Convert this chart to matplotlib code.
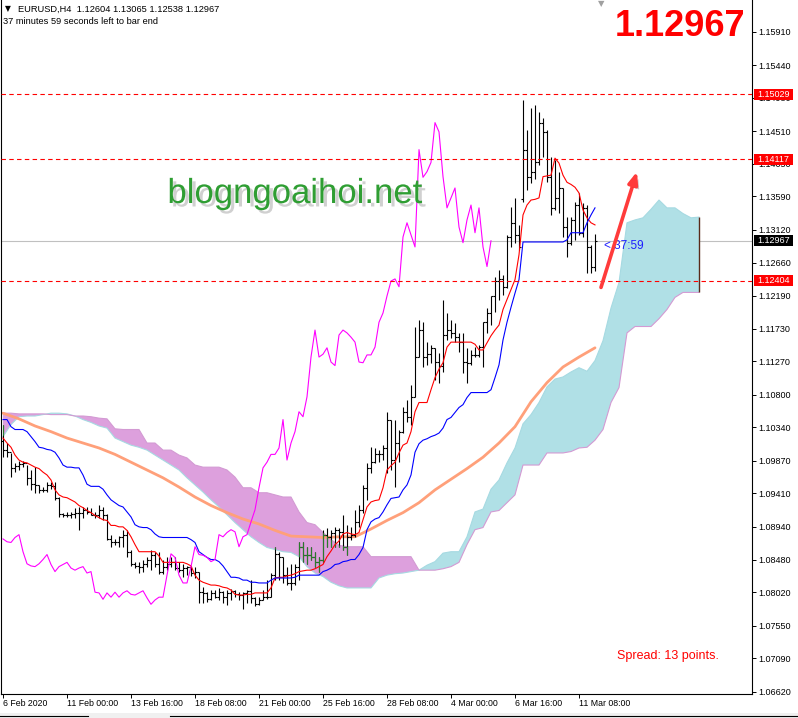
import matplotlib
matplotlib.use("Agg")
import matplotlib.pyplot as plt
import matplotlib.patheffects as pe
import matplotlib.transforms as mtransforms
from matplotlib.collections import LineCollection
from matplotlib.patches import Rectangle
from matplotlib.path import Path
import numpy as np

plt.rcParams['font.family'] = ['Liberation Sans', 'DejaVu Sans']

# ---- EURUSD H4 bars, 6 Feb 2020 .. 12 Mar 2020 ----
closes = [1.1002, 1.0999, 1.0977, 1.0980, 1.0982, 1.0984, 1.0963, 1.0954, 1.0953, 1.0946,
          1.0946, 1.0953, 1.0951, 1.0935, 1.0912, 1.0911, 1.0911, 1.0912, 1.0914, 1.0914,
          1.0918, 1.0915, 1.0911, 1.0911, 1.0918, 1.0910, 1.0877, 1.0873, 1.0872, 1.0879,
          1.0883, 1.0859, 1.0842, 1.0839, 1.0838, 1.0842, 1.0848, 1.0855, 1.0841, 1.0831,
          1.0838, 1.0841, 1.0844, 1.0836, 1.0833, 1.0836, 1.0838, 1.0829, 1.0831, 1.0802,
          1.0801, 1.0792, 1.0801, 1.0795, 1.0802, 1.0795, 1.0801, 1.0804, 1.0799, 1.0798,
          1.0801, 1.0804, 1.0794, 1.0785, 1.0791, 1.0795, 1.0795, 1.0826, 1.0856, 1.0851,
          1.0826, 1.0815, 1.0815, 1.0838, 1.0866, 1.0855, 1.0854, 1.0851, 1.0845, 1.0848,
          1.0883, 1.0880, 1.0886, 1.0890, 1.0887, 1.0866, 1.0880, 1.0883, 1.0901, 1.0918,
          1.0949, 1.0977, 1.0985, 1.0996, 1.0996, 1.1005, 1.1045, 1.0988, 1.1012, 1.1028,
          1.1056, 1.1049, 1.1077, 1.1133, 1.1171, 1.1133, 1.1137, 1.1146, 1.1126, 1.1121,
          1.1164, 1.1171, 1.1167, 1.1161, 1.1154, 1.1126, 1.1125, 1.1136, 1.1136, 1.1147,
          1.1182, 1.1195, 1.1219, 1.1240, 1.1243, 1.1232, 1.1302, 1.1322, 1.1305, 1.1288,
          1.1425, 1.1386, 1.1394, 1.1407, 1.1463, 1.1450, 1.1387, 1.1343, 1.1357, 1.1371,
          1.1316, 1.1294, 1.1326, 1.1347, 1.1308, 1.1343, 1.1288, 1.12604, 1.12967]

highs = [1.1038, 1.1012, 1.0998, 1.0984, 1.0987, 1.0987, 1.0981, 1.0974, 1.0978, 1.0953,
         1.0950, 1.0957, 1.0957, 1.0957, 1.0936, 1.0914, 1.0915, 1.0915, 1.0921, 1.0922,
         1.0922, 1.0922, 1.0921, 1.0915, 1.0925, 1.0922, 1.0912, 1.0883, 1.0877, 1.0881,
         1.0890, 1.0890, 1.0862, 1.0845, 1.0844, 1.0848, 1.0852, 1.0862, 1.0859, 1.0859,
         1.0848, 1.0852, 1.0851, 1.0852, 1.0844, 1.0841, 1.0839, 1.0839, 1.0838, 1.0831,
         1.0809, 1.0802, 1.0805, 1.0805, 1.0808, 1.0804, 1.0805, 1.0807, 1.0805, 1.0802,
         1.0802, 1.0805, 1.0819, 1.0795, 1.0795, 1.0805, 1.0819, 1.0829, 1.0866, 1.0859,
         1.0852, 1.0838, 1.0841, 1.0841, 1.0872, 1.0872, 1.0866, 1.0866, 1.0859, 1.0852,
         1.0890, 1.0893, 1.0890, 1.0894, 1.0893, 1.0911, 1.0897, 1.0894, 1.0918, 1.0925,
         1.0953, 1.0984, 1.1006, 1.1005, 1.1002, 1.1009, 1.1055, 1.1045, 1.1045, 1.1031,
         1.1063, 1.1073, 1.1094, 1.1175, 1.1185, 1.1182, 1.1154, 1.1150, 1.1146, 1.1139,
         1.1214, 1.1195, 1.1185, 1.1181, 1.1167, 1.1167, 1.1146, 1.1143, 1.1147, 1.1150,
         1.1182, 1.1202, 1.1219, 1.1246, 1.1256, 1.1249, 1.1305, 1.1344, 1.1357, 1.1319,
         1.1495, 1.1453, 1.1484, 1.1488, 1.1478, 1.1470, 1.1453, 1.1415, 1.1411, 1.1393,
         1.1371, 1.1330, 1.1330, 1.1351, 1.1364, 1.1350, 1.1347, 1.1291, 1.13065]

lows = [1.0992, 1.0992, 1.0964, 1.0971, 1.0974, 1.0978, 1.0953, 1.0946, 1.0942, 1.0942,
        1.0943, 1.0943, 1.0947, 1.0932, 1.0908, 1.0908, 1.0908, 1.0907, 1.0907, 1.0890,
        1.0907, 1.0912, 1.0910, 1.0907, 1.0907, 1.0904, 1.0876, 1.0866, 1.0868, 1.0866,
        1.0866, 1.0852, 1.0839, 1.0836, 1.0829, 1.0831, 1.0838, 1.0833, 1.0838, 1.0828,
        1.0828, 1.0833, 1.0838, 1.0833, 1.0831, 1.0824, 1.0826, 1.0825, 1.0822, 1.0787,
        1.0787, 1.0788, 1.0791, 1.0794, 1.0791, 1.0787, 1.0784, 1.0791, 1.0795, 1.0791,
        1.0778, 1.0787, 1.0787, 1.0783, 1.0784, 1.0791, 1.0792, 1.0795, 1.0819, 1.0819,
        1.0815, 1.0812, 1.0805, 1.0812, 1.0819, 1.0844, 1.0841, 1.0848, 1.0838, 1.0831,
        1.0844, 1.0866, 1.0866, 1.0865, 1.0865, 1.0862, 1.0855, 1.0876, 1.0880, 1.0894,
        1.0914, 1.0932, 1.0970, 1.0984, 1.0985, 1.0988, 1.0970, 1.0974, 1.0950, 1.0985,
        1.1026, 1.1041, 1.1038, 1.1077, 1.1133, 1.1119, 1.1122, 1.1125, 1.1101, 1.1097,
        1.1112, 1.1157, 1.1160, 1.1154, 1.1140, 1.1111, 1.1097, 1.1122, 1.1133, 1.1133,
        1.1119, 1.1167, 1.1178, 1.1197, 1.1214, 1.1221, 1.1230, 1.1288, 1.1294, 1.1284,
        1.1351, 1.1368, 1.1378, 1.1383, 1.1404, 1.1415, 1.1380, 1.1333, 1.1340, 1.1336,
        1.1302, 1.1274, 1.1291, 1.1298, 1.1305, 1.1302, 1.1252, 1.1252, 1.12538]

# forex bars open at the previous close, except the Monday 9 Mar gap
opens = [1.1015] + closes[:-1]
opens[130] = 1.1355

# Ichimoku lines
tenkan = [1.1019, 1.1012, 1.1006, 1.0995, 1.0988, 1.0985, 1.0984, 1.0981, 1.0978, 1.0976,
          1.0971, 1.0967, 1.0960, 1.0946, 1.0939, 1.0936, 1.0935, 1.0932, 1.0929, 1.0924,
          1.0921, 1.0917, 1.0914, 1.0910, 1.0907, 1.0904, 1.0903, 1.0896, 1.0896, 1.0894,
          1.0894, 1.0889, 1.0880, 1.0869, 1.0859, 1.0859, 1.0859, 1.0859, 1.0859, 1.0853,
          1.0844, 1.0844, 1.0844, 1.0844, 1.0844, 1.0844, 1.0842, 1.0839, 1.0826, 1.0819,
          1.0816, 1.0814, 1.0812, 1.0812, 1.0811, 1.0809, 1.0808, 1.0805, 1.0799, 1.0798,
          1.0798, 1.0799, 1.0799, 1.0801, 1.0801, 1.0801, 1.0801, 1.0808, 1.0822, 1.0823,
          1.0823, 1.0825, 1.0826, 1.0828, 1.0831, 1.0832, 1.0833, 1.0833, 1.0835, 1.0838,
          1.0841, 1.0852, 1.0860, 1.0869, 1.0874, 1.0884, 1.0886, 1.0884, 1.0883, 1.0886,
          1.0904, 1.0922, 1.0929, 1.0931, 1.0932, 1.0949, 1.0974, 1.0980, 1.0985, 1.0998,
          1.1009, 1.1012, 1.1028, 1.1056, 1.1069, 1.1069, 1.1069, 1.1087, 1.1104, 1.1116,
          1.1125, 1.1147, 1.1154, 1.1154, 1.1154, 1.1154, 1.1154, 1.1154, 1.1151, 1.1143,
          1.1143, 1.1153, 1.1163, 1.1171, 1.1178, 1.1200, 1.1214, 1.1228, 1.1242, 1.1277,
          1.1333, 1.1347, 1.1354, 1.1355, 1.1357, 1.1387, 1.1388, 1.1389, 1.1413, 1.1406,
          1.1389, 1.1379, 1.1376, 1.1372, 1.1364, 1.1340, 1.1329, 1.1322, 1.1319]

kijun = [1.1045, 1.1045, 1.1035, 1.1031, 1.1031, 1.1031, 1.1028, 1.1021, 1.1014, 1.1006,
         1.1005, 1.1003, 1.1002, 1.0999, 1.0991, 1.0981, 1.0978, 1.0978, 1.0977, 1.0977,
         1.0967, 1.0954, 1.0951, 1.0951, 1.0951, 1.0947, 1.0939, 1.0932, 1.0928, 1.0924,
         1.0922, 1.0915, 1.0908, 1.0897, 1.0894, 1.0893, 1.0893, 1.0890, 1.0884, 1.0880,
         1.0879, 1.0879, 1.0879, 1.0879, 1.0879, 1.0879, 1.0879, 1.0876, 1.0872, 1.0859,
         1.0855, 1.0851, 1.0848, 1.0848, 1.0845, 1.0839, 1.0831, 1.0823, 1.0823, 1.0822,
         1.0819, 1.0819, 1.0816, 1.0816, 1.0815, 1.0815, 1.0815, 1.0819, 1.0822, 1.0822,
         1.0822, 1.0822, 1.0822, 1.0823, 1.0826, 1.0826, 1.0826, 1.0826, 1.0826, 1.0826,
         1.0831, 1.0833, 1.0836, 1.0841, 1.0842, 1.0845, 1.0846, 1.0848, 1.0848, 1.0855,
         1.0865, 1.0890, 1.0901, 1.0905, 1.0907, 1.0915, 1.0925, 1.0934, 1.0935, 1.0936,
         1.0946, 1.0953, 1.0967, 1.0999, 1.1011, 1.1016, 1.1018, 1.1021, 1.1023, 1.1026,
         1.1033, 1.1045, 1.1048, 1.1055, 1.1062, 1.1066, 1.1076, 1.1083, 1.1083, 1.1083,
         1.1083, 1.1083, 1.1087, 1.1104, 1.1122, 1.1157, 1.1182, 1.1203, 1.1223, 1.1242,
         1.1295, 1.1295, 1.1295, 1.1295, 1.1295, 1.1295, 1.1295, 1.1295, 1.1295, 1.1295,
         1.1295, 1.1298, 1.1308, 1.1308, 1.1308, 1.1308, 1.1322, 1.1333, 1.1343]

# cloud, every second bar, 26 bars ahead of price
span_a = [1.1021, 1.1038, 1.1049, 1.1050, 1.1050, 1.1052, 1.1054, 1.1054, 1.1053, 1.1050,
          1.1045, 1.1041, 1.1036, 1.1033, 1.1019, 1.1014, 1.1009, 1.1006, 1.1002, 1.0995,
          1.0988, 1.0981, 1.0974, 1.0963, 1.0953, 1.0943, 1.0932, 1.0922, 1.0911, 1.0900,
          1.0890, 1.0880, 1.0872, 1.0865, 1.0862, 1.0859, 1.0858, 1.0852, 1.0838, 1.0829,
          1.0824, 1.0816, 1.0811, 1.0808, 1.0808, 1.0808, 1.0808, 1.0822, 1.0826, 1.0828,
          1.0829, 1.0831, 1.0833, 1.0840, 1.0845, 1.0857, 1.0859, 1.0859, 1.0880, 1.0915,
          1.0919, 1.0947, 1.0960, 1.0984, 1.1005, 1.1039, 1.1052, 1.1069, 1.1091, 1.1102,
          1.1105, 1.1112, 1.1118, 1.1113, 1.1128, 1.1156, 1.1202, 1.1238, 1.1322, 1.1326,
          1.1329, 1.1341, 1.1354, 1.1343, 1.1343, 1.1335, 1.1329, 1.1330]

span_b = [1.1054, 1.1054, 1.1053, 1.1053, 1.1053, 1.1053, 1.1052, 1.1052, 1.1052, 1.1050,
          1.1050, 1.1049, 1.1047, 1.1046, 1.1032, 1.1031, 1.1031, 1.1031, 1.1012, 1.1012,
          1.1002, 1.1002, 1.0995, 1.0991, 1.0981, 1.0978, 1.0978, 1.0978, 1.0974, 1.0964,
          1.0949, 1.0949, 1.0942, 1.0942, 1.0939, 1.0936, 1.0936, 1.0915, 1.0900, 1.0897,
          1.0886, 1.0876, 1.0868, 1.0866, 1.0866, 1.0866, 1.0852, 1.0852, 1.0852, 1.0852,
          1.0852, 1.0852, 1.0833, 1.0833, 1.0833, 1.0835, 1.0838, 1.0844, 1.0869, 1.0890,
          1.0893, 1.0915, 1.0917, 1.0928, 1.0939, 1.0981, 1.0981, 1.0981, 1.0998, 1.0998,
          1.0998, 1.1000, 1.1005, 1.1006, 1.1016, 1.1031, 1.1069, 1.1090, 1.1167, 1.1176,
          1.1176, 1.1176, 1.1187, 1.1200, 1.1217, 1.1224, 1.1224, 1.1224]

# moving average, every fourth bar
ma = [1.1054, 1.1046, 1.1036, 1.1028, 1.1019, 1.1012, 1.1005, 1.0996, 1.0985, 1.0974,
      1.0963, 1.0950, 1.0936, 1.0924, 1.0914, 1.0905, 1.0898, 1.0889, 1.0881, 1.0880,
      1.0879, 1.0880, 1.0880, 1.0891, 1.0903, 1.0914, 1.0928, 1.0946, 1.0961, 1.0976,
      1.0992, 1.1012, 1.1035, 1.1070, 1.1097, 1.1119, 1.1133, 1.1146]

levels = [1.15029, 1.14117, 1.12404]
bid = 1.12967
yticks = [1.15910, 1.15440, 1.14980, 1.14510, 1.14050, 1.13590, 1.13120, 1.12660,
          1.12190, 1.11730, 1.11270, 1.10800, 1.10340, 1.09870, 1.09410, 1.08940,
          1.08480, 1.08020, 1.07550, 1.07090, 1.06620]
xlabels = ["6 Feb 2020", "11 Feb 00:00", "13 Feb 16:00", "18 Feb 08:00", "21 Feb 00:00",
           "25 Feb 16:00", "28 Feb 08:00", "4 Mar 00:00", "6 Mar 16:00", "11 Mar 08:00"]

W, H = 798, 718
fig = plt.figure(figsize=(W / 100, H / 100), dpi=100)
fig.patch.set_facecolor('white')
ax = fig.add_axes([1 / W, 24 / H, 751 / W, 694 / H])
ax.set_xlim(-0.5, 187.25)
ax.set_ylim(1.06587, 1.16356)

# cloud
xc = np.arange(0, 2 * len(span_a), 2)
A = np.array(span_a)
B = np.array(span_b)
ax.fill_between(xc, A, B, where=A >= B, interpolate=True, color='#B0E0E6', lw=0, zorder=1)
plum = ax.fill_between(xc, A, B, where=B > A, interpolate=True, color='#DDA0DD', lw=0, zorder=1)
ax.plot(xc, A, color='#A6DAE2', lw=0.8, zorder=1.2)
ax.plot(xc, B, color='#D39AD3', lw=0.8, zorder=1.2)
ax.vlines(xc[-1], B[-1], A[-1], color='#5a2a1a', lw=1, zorder=1.3)

ax.axhline(bid, color='#C0C0C0', lw=0.8, zorder=0.5)

# moving average
ax.plot(np.arange(0, 4 * len(ma), 4), ma, color='#FFA07A', lw=2.0, zorder=2.5,
        solid_capstyle='round')

# OHLC bars
segs = []
for i in range(len(closes)):
    segs.append([(i, lows[i]), (i, highs[i])])
    segs.append([(i - 0.4, opens[i]), (i, opens[i])])
    segs.append([(i, closes[i]), (i + 0.4, closes[i])])
ax.add_collection(LineCollection(segs, colors='black', linewidths=0.8, zorder=3))
green = LineCollection(segs, colors='#2b7a2b', linewidths=0.8, zorder=3.1)
green.set_clip_path(Path.make_compound_path(*plum.get_paths()), ax.transData)
ax.add_collection(green)

idx = np.arange(len(closes))
ax.plot(idx, tenkan, color='#FF0000', lw=0.8, zorder=4)
ax.plot(idx, kijun, color='#0000FF', lw=0.8, zorder=4)
ax.plot(idx[:len(closes) - 26], closes[26:], color='#FF00FF', lw=0.8, zorder=4)

for lv in levels:
    ax.axhline(lv, color='#FF0000', lw=0.8, ls=(0, (4, 3)), zorder=5)

# axes
ax.spines['top'].set_visible(False)
for s in ['left', 'right', 'bottom']:
    ax.spines[s].set_linewidth(0.8)
ax.yaxis.tick_right()
ax.set_yticks(yticks)
ax.set_yticklabels(['%.5f' % t for t in yticks])
ax.tick_params(axis='y', direction='out', length=3, width=0.7, pad=1.5, labelsize=6.5)
ax.set_xticks(range(0, 16 * len(xlabels), 16))
ax.set_xticklabels([])
ax.tick_params(axis='x', direction='out', length=3, width=0.7)
for k, lab in enumerate(xlabels):
    ax.text(16 * k, -10 / 694, lab, transform=ax.get_xaxis_transform(), fontsize=6.3,
            ha='left', va='center')

# price boxes on the right scale (they cover two tick labels, as in MT4)
bt = mtransforms.blended_transform_factory(ax.transAxes, ax.transData)
box_h = 11 * (1.16356 - 1.06587) / 694
for lv, fc in [(levels[0], '#FF0000'), (levels[1], '#FF0000'), (levels[2], '#FF0000'), (bid, '#000000')]:
    ax.add_patch(Rectangle((1 + 2 / 751, lv - box_h / 2), 39 / 751, box_h, transform=bt,
                           facecolor=fc, edgecolor='none', clip_on=False, zorder=10))
    ax.text(1 + 21.5 / 751, lv, '%.5f' % lv, transform=bt, color='white', fontsize=6.5,
            ha='center', va='center', clip_on=False, zorder=11)

# texts
fig.text(5 / W, 1 - 9 / H, '\u25bc', fontsize=5.5, va='center', family=['DejaVu Sans'])
fig.text(18 / W, 1 - 9 / H, 'EURUSD,H4  1.12604 1.13065 1.12538 1.12967', fontsize=6.7, va='center')
fig.text(3 / W, 1 - 21 / H, '37 minutes 59 seconds left to bar end', fontsize=6.7, va='center')
fig.text(601 / W, 1 - 4 / H, '\u25bc', fontsize=6, color='#A0A0A0', ha='center', va='center',
         family=['DejaVu Sans'])
fig.text(745 / W, 1 - 36 / H, '1.12967', fontsize=26, weight='bold', color='#FF0000',
         ha='right', va='baseline')
fig.text(295 / W, 1 - 203 / H, 'blogngoaihoi.net', fontsize=25, color='#2f9e33',
         ha='center', va='baseline',
         path_effects=[pe.withSimplePatchShadow(offset=(2.5, -2.5), shadow_rgbFace='#666666', alpha=0.3)])
fig.text(617 / W, 1 - 656 / H, 'Spread: 13 points.', fontsize=9, color='#FF0000', va='center')
ax.text(150.3, 1.1289, '< 37:59', color='#1E1EFF', fontsize=8.5, va='center', ha='left', zorder=6)

arrow_tail = (149.5, 1.1231)
arrow_head = (158.5, 1.1394)
arr = ax.annotate('', xy=arrow_head, xytext=arrow_tail, zorder=7,
                  arrowprops=dict(arrowstyle='-|>,head_width=0.28,head_length=0.7', color='#FF3B3B',
                                  lw=2.6, shrinkA=0, shrinkB=0))
arr.arrow_patch.set_path_effects([pe.withSimplePatchShadow(offset=(2, -2), alpha=0.25)])

# bottom tab strip
fig.add_artist(Rectangle((0, 0), 1, 5 / H, transform=fig.transFigure, facecolor='#F0F0F0',
                         edgecolor='none'))
fig.add_artist(plt.Line2D([0, 88 / W], [2.5 / H, 2.5 / H], transform=fig.transFigure, color='black', lw=0.8))
fig.add_artist(plt.Line2D([170 / W, 1], [2.5 / H, 2.5 / H], transform=fig.transFigure, color='black', lw=0.8))

fig.savefig('out.png', dpi=100)
